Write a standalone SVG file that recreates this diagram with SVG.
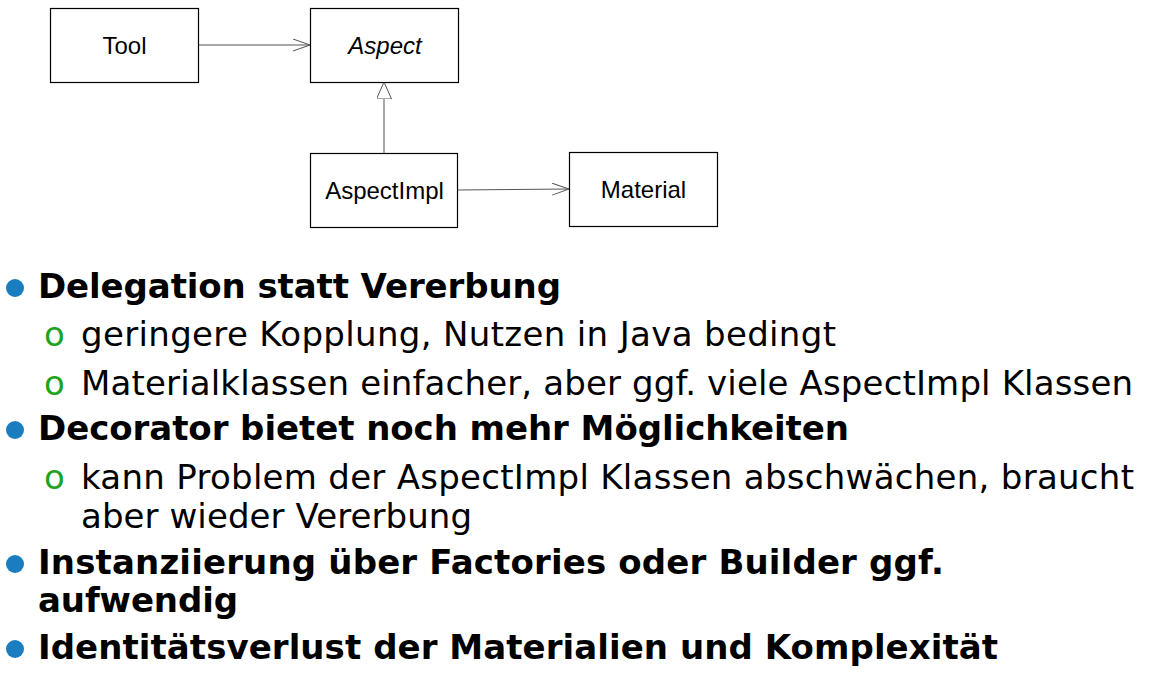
<svg xmlns="http://www.w3.org/2000/svg" width="1153" height="673" viewBox="0 0 1153 673">
<style>
.box{fill:#fff;stroke:#000;stroke-width:1.2}
.lbl{font-family:"Liberation Sans",Arial,sans-serif;font-size:24px;fill:#000;text-anchor:middle}
.conn{fill:none;stroke:#555;stroke-width:1}
.b{font-family:"DejaVu Sans",Verdana,sans-serif;font-size:34px;font-weight:bold;fill:#000}
.r{font-family:"DejaVu Sans",Verdana,sans-serif;font-size:34px;fill:#000}
.o{font-family:"DejaVu Sans",Verdana,sans-serif;font-size:34px;fill:#1fa31f}
.dot{fill:#1a7dbf}
</style>
<defs>
<marker id="open" markerWidth="20" markerHeight="16" refX="17" refY="6" orient="auto" markerUnits="userSpaceOnUse">
<path d="M0,0 L17,6 L0,12" fill="none" stroke="#555" stroke-width="1"/>
</marker>
<marker id="gen" markerWidth="20" markerHeight="20" refX="17" refY="7.5" orient="auto" markerUnits="userSpaceOnUse">
<path d="M0,0 L17,7.5 L0,15 Z" fill="#fff" stroke="#555" stroke-width="1"/>
</marker>
</defs>
<rect width="1153" height="673" fill="#fff"/>
<g id="connectors">
<line class="conn" x1="198" y1="45" x2="310" y2="45" marker-end="url(#open)"/>
<line class="conn" x1="384" y1="153" x2="384" y2="82" marker-end="url(#gen)"/>
<line class="conn" x1="457" y1="190" x2="569" y2="189" marker-end="url(#open)"/>
</g>
<g id="tool"><rect class="box" x="50.5" y="8.5" width="148" height="74"/><text class="lbl" x="124.5" y="54">Tool</text></g>
<g id="aspect"><rect class="box" x="310.5" y="8.5" width="148" height="74"/><text class="lbl" x="385" y="54" font-style="italic">Aspect</text></g>
<g id="aspectimpl"><rect class="box" x="310.5" y="153.5" width="147" height="74"/><text class="lbl" x="384.5" y="199">AspectImpl</text></g>
<g id="material"><rect class="box" x="569.5" y="152.5" width="148" height="74"/><text class="lbl" x="643.5" y="198">Material</text></g>
<g id="bullets">
<circle class="dot" cx="15" cy="288" r="9"/>
<text class="b" x="38" y="298" textLength="523">Delegation statt Vererbung</text>
<text class="o" x="44" y="346">o</text>
<text class="r" x="81" y="346" textLength="755">geringere Kopplung, Nutzen in Java bedingt</text>
<text class="o" x="44" y="395">o</text>
<text class="r" x="81" y="395" textLength="1052">Materialklassen einfacher, aber ggf. viele AspectImpl Klassen</text>
<circle class="dot" cx="15" cy="430" r="9"/>
<text class="b" x="38" y="440" textLength="811">Decorator bietet noch mehr Möglichkeiten</text>
<text class="o" x="44" y="489">o</text>
<text class="r" x="81" y="489" textLength="1053">kann Problem der AspectImpl Klassen abschwächen, braucht</text>
<text class="r" x="81" y="528" textLength="391">aber wieder Vererbung</text>
<circle class="dot" cx="15" cy="564" r="9"/>
<text class="b" x="38" y="574" textLength="906">Instanziierung über Factories oder Builder ggf.</text>
<text class="b" x="38" y="612" textLength="200">aufwendig</text>
<circle class="dot" cx="15" cy="649" r="9"/>
<text class="b" x="38" y="659" textLength="960">Identitätsverlust der Materialien und Komplexität</text>
</g>
</svg>
